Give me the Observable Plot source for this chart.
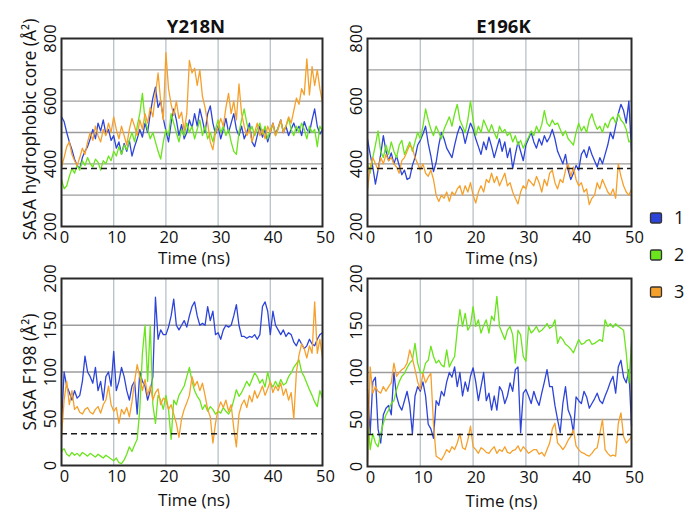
<!DOCTYPE html>
<html>
<head>
<meta charset="utf-8">
<script src="https://cdn.jsdelivr.net/npm/d3@7"></script>
<script src="https://cdn.jsdelivr.net/npm/@observablehq/plot@0.6"></script>
<style>
  body { margin: 0; background: #fff; }
  #chart { position: relative; width: 700px; height: 528px; background: #fff; font-family: "Open Sans", sans-serif; }
  #chart > svg, #chart > div { position: absolute; }
</style>
</head>
<body>
<div id="chart"></div>
<script>
// ---------- data (time step 0.5 ns, 0..50 ns) ----------
const seriesNames = ["1", "2", "3"];
const panelTitles = ["Y218N", "E196K"];
const xTickValues = [0, 10, 20, 30, 40, 50];
const coreTicks = [200, 400, 600, 800];
const coreGrid = [300, 400, 500, 600, 700];
const f198Ticks = [0, 50, 100, 150, 200];
const f198Grid = [50, 100, 150];
const coreReference = 385;
const f198Reference = 34;

// Y218N, SASA hydrophobic core
const y218nCore1 = [550,535,500,470,445,415,395,385,420,440,
 455,480,510,480,530,505,540,495,510,475,
 490,450,470,430,465,440,475,425,455,480,
 510,485,530,500,560,610,645,580,600,545,
 505,470,530,575,540,490,525,480,500,540,
 515,560,520,575,540,500,560,585,530,495,
 520,480,510,545,500,530,560,510,490,520,
 480,500,530,470,455,490,520,485,510,470,
 500,530,495,515,540,500,520,490,510,530,
 505,520,490,535,510,500,540,575,520,495,
 510];
const y218nCore2 = [350,320,330,360,385,370,395,380,410,395,
 420,400,390,415,405,380,410,400,425,410,
 440,425,455,430,460,445,475,500,470,520,
 560,625,540,510,480,500,470,440,415,470,
 510,490,560,530,500,470,510,490,530,500,
 520,480,510,540,490,520,480,500,470,510,
 540,500,520,490,510,470,440,430,500,540,
 575,530,500,520,490,510,530,495,520,480,
 510,525,490,515,535,505,520,545,510,490,
 520,500,530,510,480,520,500,510,455,520,
 505];
const y218nCore3 = [390,420,455,470,430,410,395,420,450,430,
 470,500,475,520,490,470,510,490,530,500,
 550,510,480,520,490,460,510,545,520,490,
 540,510,560,530,580,550,620,690,600,540,
 755,640,590,555,600,545,565,505,560,730,
 690,705,650,700,615,580,530,470,445,500,
 515,545,520,580,625,560,600,540,655,560,
 520,490,510,470,500,530,490,510,480,520,
 500,530,490,510,540,500,520,550,530,570,
 610,590,640,620,735,620,710,650,700,640,
 595];

// E196K, SASA hydrophobic core
const e196kCore1 = [480,430,390,335,380,430,490,440,410,435,
 400,425,395,365,380,350,355,395,420,460,
 475,495,520,465,425,375,405,460,500,480,
 450,435,420,460,495,520,505,465,500,530,
 510,480,455,430,470,445,485,455,420,450,
 480,440,470,420,450,385,430,470,440,410,
 460,480,500,470,450,480,460,490,470,485,
 510,480,440,420,400,430,380,350,370,395,
 380,430,445,420,455,430,410,390,420,400,
 430,460,500,480,520,560,590,570,530,600,
 440];
const e196kCore2 = [400,370,420,460,505,440,420,460,430,470,
 440,420,460,475,430,450,470,440,470,500,
 480,520,575,540,510,490,520,500,480,510,
 530,550,520,560,590,540,520,500,540,600,
 540,490,520,500,540,520,500,525,500,480,
 520,500,510,490,500,470,490,460,475,450,
 470,485,505,490,520,500,525,570,530,520,
 540,525,530,510,490,505,480,470,460,500,
 530,505,520,500,540,560,530,510,520,500,
 530,515,540,550,530,560,540,530,510,470,
 475];
const e196kCore3 = [315,390,420,400,380,420,400,430,410,420,
 400,390,370,410,420,440,460,450,420,400,
 380,400,370,360,380,350,300,280,300,290,
 310,280,310,300,320,330,300,330,310,340,
 300,275,310,330,310,350,340,370,340,360,
 330,350,370,330,340,310,290,272,310,330,
 320,350,340,330,360,340,310,350,330,370,
 380,340,320,350,340,380,400,360,390,350,
 330,340,310,320,270,290,300,340,320,350,
 330,310,300,320,290,400,360,330,310,300,
 320];

// Y218N, SASA F198
const y218nF1 = [45,100,85,78,70,80,72,75,90,117,
 100,95,88,105,80,90,70,95,100,85,
 122,80,90,105,95,80,70,85,90,55,
 100,90,85,70,80,95,180,135,145,140,
 140,148,160,178,150,145,150,155,148,160,
 170,175,160,150,152,150,170,155,165,140,
 142,135,145,150,148,150,160,172,150,138,
 138,136,138,137,140,135,140,170,175,165,
 140,165,150,145,140,145,138,142,140,132,
 128,135,130,125,128,135,130,128,135,140,
 142];
const y218nF2 = [15,18,12,10,14,11,13,10,14,12,
 10,13,11,9,12,10,8,11,9,7,
 5,8,3,2,6,12,20,15,22,28,
 60,120,150,90,150,65,45,75,70,60,
 75,60,28,70,65,75,80,85,95,105,
 90,80,74,70,60,65,58,63,60,55,
 58,56,62,58,55,60,70,81,74,78,
 84,90,85,92,99,95,88,92,84,100,
 88,84,90,84,92,86,88,95,99,105,
 109,113,100,95,88,81,75,68,63,80,
 72];
const y218nF3 = [30,70,90,65,80,60,63,57,55,60,
 62,57,55,60,63,56,65,70,85,65,
 58,62,45,60,55,62,52,68,90,108,
 95,80,92,75,85,70,78,82,65,72,
 70,60,65,55,45,30,50,60,67,75,
 95,85,90,80,88,75,60,52,24,45,
 60,68,62,70,58,65,40,20,55,65,
 70,62,75,68,80,72,78,85,75,82,
 90,78,85,80,88,75,82,70,78,50,
 100,118,130,125,115,128,120,175,120,135,
 115];

// E196K, SASA F198
const e196kF1 = [82,35,90,95,40,25,55,62,65,55,
 100,75,65,60,70,80,65,35,75,85,
 80,90,75,45,40,30,70,65,80,75,
 90,100,95,106,85,100,75,90,80,96,
 105,90,70,85,100,70,78,60,75,60,
 85,80,67,75,89,80,103,106,36,78,
 82,75,67,80,71,65,78,90,103,85,
 85,65,50,36,67,85,60,53,36,74,
 70,67,80,74,62,67,72,78,70,67,
 75,82,90,96,78,106,113,95,89,103,
 43];
const e196kF2 = [60,18,35,25,21,35,46,55,60,67,
 70,82,90,96,99,105,110,113,131,110,
 100,99,110,113,128,117,110,113,108,106,
 124,106,112,117,145,167,149,163,145,150,
 170,149,156,142,150,156,142,160,155,181,
 149,142,135,145,149,140,110,145,140,117,
 112,149,142,145,149,143,145,148,152,147,
 149,156,131,138,135,130,128,125,121,128,
 135,130,131,134,135,130,131,133,135,133,
 156,149,152,148,152,149,147,145,121,89,
 131];
const e196kF3 = [5,106,78,85,80,78,85,80,85,89,
 110,96,100,103,105,110,124,115,103,90,
 82,99,89,95,99,45,11,9,7,12,
 18,15,21,18,25,35,20,18,28,43,
 21,18,14,20,18,15,14,18,21,14,
 18,16,21,15,14,17,18,22,16,21,
 18,14,16,18,18,13,15,11,18,25,
 40,46,25,22,18,22,28,32,39,22,
 18,15,14,12,11,14,18,20,35,50,
 18,14,11,12,11,46,57,32,25,28,
 32];

const time = d3.range(0, 50.0001, 0.5);
const colors = ["#2d44d8", "#6ae41c", "#f6a02c"];

// ---------- drawing ----------
const chart = document.getElementById("chart");

function panel(o) {
  const marks = [
    Plot.ruleX([10, 20, 30, 40], {stroke: "#b8c2c9", strokeWidth: 1.3}),
    Plot.ruleY(o.grid, {stroke: "#9c9c9c", strokeWidth: 1.3}),
    ...o.series.map((vals, i) => Plot.lineY(vals, {
      x: (d, j) => time[j], y: d => d, stroke: colors[i], strokeWidth: 1.3
    })),
    Plot.ruleY([o.ref], {stroke: "#1a1a1a", strokeWidth: 1.5, strokeDasharray: "6,4"}),
    Plot.frame({stroke: "#2a2a2a", strokeWidth: 2}),
    Plot.text(o.ticks, {y: d => d, text: d => String(d), frameAnchor: "left", dx: -11, rotate: -90,
      textAnchor: "middle", lineAnchor: "middle", fontSize: 16.5, fill: "#111"}),
    Plot.text(xTickValues, {x: d => d, text: d => String(d), frameAnchor: "bottom", dx: 3, dy: 11,
      lineAnchor: "middle", fontSize: 16.5, fill: "#111"}),
    Plot.text(["Time (ns)"], {text: d => d, frameAnchor: "bottom", dy: o.xtitleDy, dx: 2,
      lineAnchor: "middle", fontSize: 17, fill: "#111"})
  ];
  if (o.title) marks.push(Plot.text([o.title], {text: d => d, frameAnchor: "top", dy: -11, dx: 4,
      lineAnchor: "middle", fontSize: 18.5, fontWeight: "bold", fill: "#111"}));
  if (o.ytitle) marks.push(Plot.text([o.ytitle], {text: d => d, frameAnchor: "left", dx: -31, dy: o.ytitleDy || 0,
      rotate: -90, textAnchor: "middle", lineAnchor: "middle", fontSize: 17.5, fill: "#111"}));
  const svg = Plot.plot({
    width: o.width, height: o.height,
    marginLeft: o.ml, marginRight: o.mr, marginTop: o.mt, marginBottom: o.mb,
    x: {domain: [0, 50], axis: null},
    y: {domain: o.domain, axis: null},
    style: {fontFamily: "'Open Sans', sans-serif", background: "transparent", overflow: "visible"},
    marks
  });
  svg.style.left = o.left + "px";
  svg.style.top = o.top + "px";
  chart.appendChild(svg);
}

panel({left: 0, top: 0, width: 330, height: 270, ml: 61, mr: 8, mt: 38, mb: 44,
  domain: [200, 800], grid: coreGrid, ticks: coreTicks, ref: coreReference,
  series: [y218nCore1, y218nCore2, y218nCore3], title: panelTitles[0],
  ytitle: "SASA hydrophobic core (Å²)", ytitleDy: -3, xtitleDy: 32.5});
panel({left: 340, top: 0, width: 300, height: 270, ml: 27, mr: 9, mt: 38, mb: 44,
  domain: [200, 800], grid: coreGrid, ticks: coreTicks, ref: coreReference,
  series: [e196kCore1, e196kCore2, e196kCore3], title: panelTitles[1], xtitleDy: 32.5});
panel({left: 0, top: 240, width: 330, height: 288, ml: 61, mr: 8, mt: 38, mb: 63,
  domain: [0, 200], grid: f198Grid, ticks: f198Ticks, ref: f198Reference,
  series: [y218nF1, y218nF2, y218nF3],
  ytitle: "SASA F198 (Å²)", xtitleDy: 35.5});
panel({left: 340, top: 240, width: 300, height: 288, ml: 27, mr: 9, mt: 38, mb: 62,
  domain: [0, 200], grid: f198Grid, ticks: f198Ticks, ref: f198Reference,
  series: [e196kF1, e196kF2, e196kF3], xtitleDy: 35.5});

// legend
const ns = "http://www.w3.org/2000/svg";
const leg = document.createElementNS(ns, "svg");
leg.setAttribute("width", 60); leg.setAttribute("height", 110);
leg.style.left = "645px"; leg.style.top = "200px";
seriesNames.forEach((name, i) => {
  const cy = 18 + i * 37;
  const r = document.createElementNS(ns, "rect");
  r.setAttribute("x", 5.5); r.setAttribute("y", cy - 5); r.setAttribute("width", 11); r.setAttribute("height", 10);
  r.setAttribute("rx", 1.5); r.setAttribute("fill", colors[i]); r.setAttribute("stroke", "#333"); r.setAttribute("stroke-width", 1.3);
  leg.appendChild(r);
  const t = document.createElementNS(ns, "text");
  t.setAttribute("x", 29); t.setAttribute("y", cy); t.setAttribute("dy", "0.35em");
  t.setAttribute("font-size", 18); t.setAttribute("font-family", "'Open Sans', sans-serif"); t.setAttribute("fill", "#111");
  t.textContent = name;
  leg.appendChild(t);
});
chart.appendChild(leg);
</script>
</body>
</html>
